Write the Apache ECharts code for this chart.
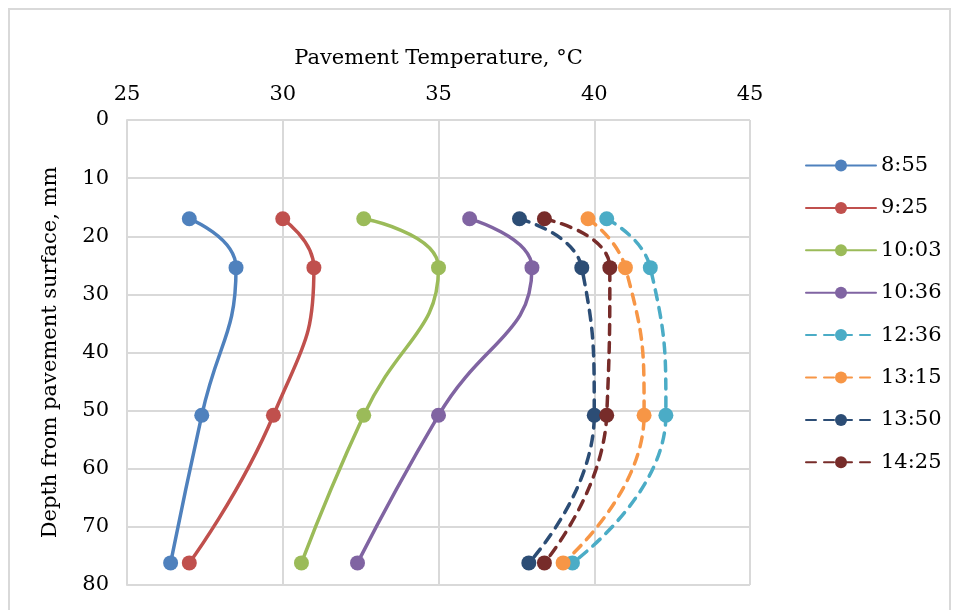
<!DOCTYPE html>
<html>
<head>
<meta charset="utf-8">
<script src="https://cdn.jsdelivr.net/npm/echarts@6/dist/echarts.min.js"></script>
<style>html,body{margin:0;padding:0;background:#fff;}#c{width:958px;height:610px;}</style>
</head>
<body>
<div id="c"></div>
<script>
const depths = [17, 25.4, 50.8, 76.2];
const seriesNames = ['8:55', '9:25', '10:03', '10:36', '12:36', '13:15', '13:50', '14:25'];
const t0855 = [27.0, 28.5, 27.4, 26.4];
const t0925 = [30.0, 31.0, 29.7, 27.0];
const t1003 = [32.6, 35.0, 32.6, 30.6];
const t1036 = [36.0, 38.0, 35.0, 32.4];
const t1236 = [40.4, 41.8, 42.3, 39.3];
const t1315 = [39.8, 41.0, 41.6, 39.0];
const t1350 = [37.6, 39.6, 40.0, 37.9];
const t1425 = [38.4, 40.5, 40.4, 38.4];
const temps = [t0855, t0925, t1003, t1036, t1236, t1315, t1350, t1425];
const colors = ['#4F81BD', '#C0504D', '#9BBB59', '#8064A2', '#4BACC6', '#F79646', '#2C4D75', '#772C2A'];
const dashed = [false, false, false, false, true, true, true, true];

const FONT = 'DejaVu Serif';
const FS = 21;
const chart = echarts.init(document.getElementById('c'), null, {renderer: 'canvas'});
const series = seriesNames.map((n, i) => ({
  name: n,
  type: 'line',
  smooth: 0.5,
  symbol: 'circle',
  symbolSize: 15,
  data: temps[i].map((t, k) => [t, depths[k]]),
  lineStyle: {color: colors[i], width: 3.5, type: dashed[i] ? [10, 8] : 'solid', cap: 'round'},
  itemStyle: {color: colors[i]},
  emphasis: {disabled: true}
}));
chart.setOption({
  animation: false,
  backgroundColor: '#fff',
  graphic: [{
    type: 'rect', shape: {x: 9, y: 9, width: 941, height: 620},
    style: {fill: 'none', stroke: '#D9D9D9', lineWidth: 2}, silent: true
  }],
  grid: {left: 127, right: 208, top: 120, bottom: 25, containLabel: false},
  legend: {
    orient: 'vertical', left: 800, top: 150, itemGap: 21.4,
    itemWidth: 70, itemHeight: 15,
    textStyle: {fontFamily: FONT, fontSize: FS, color: '#000'},
    data: seriesNames
  },
  xAxis: {
    type: 'value', position: 'top', min: 25, max: 45, interval: 5,
    name: 'Pavement Temperature, °C', nameLocation: 'middle', nameGap: 51,
    nameTextStyle: {fontFamily: FONT, fontSize: FS, color: '#000'},
    axisLine: {show: false}, axisTick: {show: false},
    axisLabel: {fontFamily: FONT, fontSize: FS, color: '#000', margin: 15},
    splitLine: {show: true, lineStyle: {color: '#D9D9D9', width: 2}}
  },
  yAxis: {
    type: 'value', inverse: true, min: 0, max: 80, interval: 10,
    name: 'Depth from pavement surface, mm', nameLocation: 'middle', nameGap: 66,
    nameTextStyle: {fontFamily: FONT, fontSize: FS, color: '#000'},
    axisLine: {show: true, lineStyle: {color: '#D9D9D9', width: 2}}, axisTick: {show: false},
    axisLabel: {fontFamily: FONT, fontSize: FS, color: '#000', margin: 18},
    splitLine: {show: true, lineStyle: {color: '#D9D9D9', width: 2}}
  },
  series: series
});
</script>
</body>
</html>
